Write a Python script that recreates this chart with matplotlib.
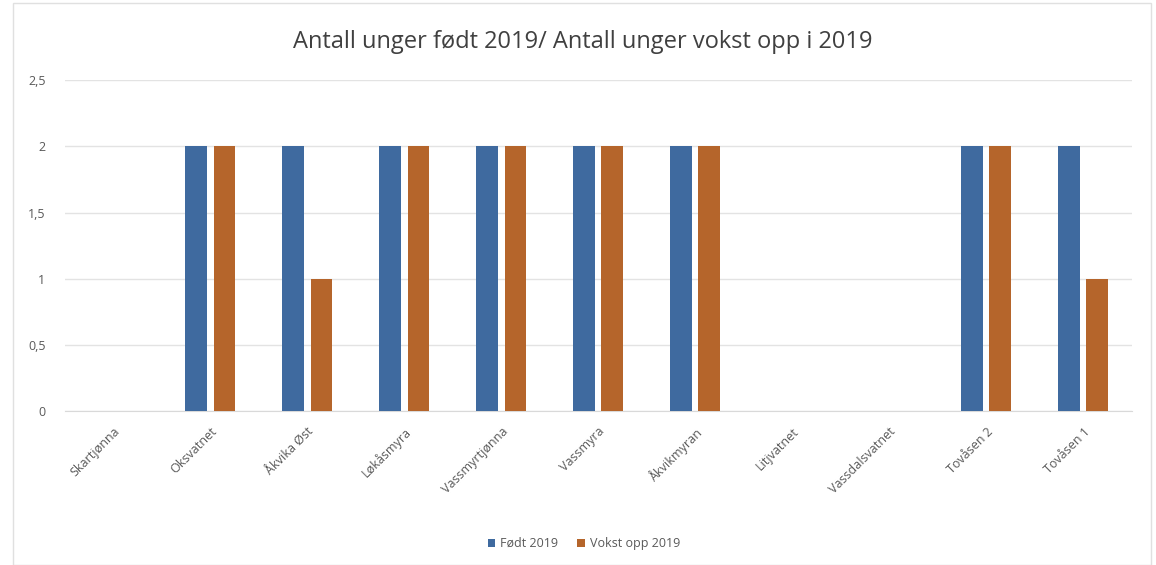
import matplotlib
matplotlib.use("Agg")
import matplotlib.pyplot as plt
import numpy as np
from matplotlib.patches import Rectangle

categories = ["Skartjønna", "Oksvatnet", "Åkvika Øst", "Løkåsmyra", "Vassmyrtjønna",
              "Vassmyra", "Åkvikmyran", "Litjvatnet", "Vassdalsvatnet", "Tovåsen 2", "Tovåsen 1"]
fodt = [0, 2, 2, 2, 2, 2, 2, 0, 0, 2, 2]
vokst = [0, 2, 1, 2, 2, 2, 2, 0, 0, 2, 1]
series_names = ["Født 2019", "Vokst opp 2019"]
yticks = [0, 0.5, 1, 1.5, 2, 2.5]
ytick_labels = ["0", "0,5", "1", "1,5", "2", "2,5"]

plt.rcParams['font.family'] = ['Open Sans', 'DejaVu Sans']

fig = plt.figure(figsize=(11.56, 5.65), dpi=100)
fig.patches.append(Rectangle((0.011, 0.0), 0.985, 0.995, transform=fig.transFigure,
                             fill=False, edgecolor="#e0e0e0", linewidth=1))
ax = fig.add_axes([0.0562, 0.2726, 0.9228, 0.5854])

x = np.arange(len(categories))
w = 0.225
off = 0.145
c1 = "#3f6a9f"
c2 = "#b5652b"
ax.bar(x - off, fodt, w, color=c1, label=series_names[0], zorder=3)
ax.bar(x + off, vokst, w, color=c2, label=series_names[1], zorder=3)

ax.set_xlim(-0.5, len(categories) - 0.5)
ax.set_ylim(0, 2.5)
ax.set_yticks(yticks)
ax.set_yticklabels(ytick_labels, fontsize=9, color="#595959")
ax.set_xticks(x)
ax.set_xticklabels(categories, rotation=45, ha="right", rotation_mode="anchor",
                   fontsize=9, color="#595959")
ax.tick_params(axis="x", length=0, pad=10)
ax.tick_params(axis="y", length=0, pad=14)
ax.grid(axis="y", color="#e3e3e3", linewidth=1, zorder=0)
for s in ["top", "right", "left"]:
    ax.spines[s].set_visible(False)
ax.spines["bottom"].set_color("#d9d9d9")

fig.text(0.504, 0.926, "Antall unger født 2019/ Antall unger vokst opp i 2019",
         ha="center", va="center", fontsize=17, color="#404040")
fig.legend(loc="center", bbox_to_anchor=(0.505, 0.038), ncol=2, frameon=False,
           fontsize=9, handlelength=0.6, handleheight=0.6, handletextpad=0.4,
           columnspacing=1.5, labelcolor="#595959")

fig.savefig("out.png", dpi=100)
